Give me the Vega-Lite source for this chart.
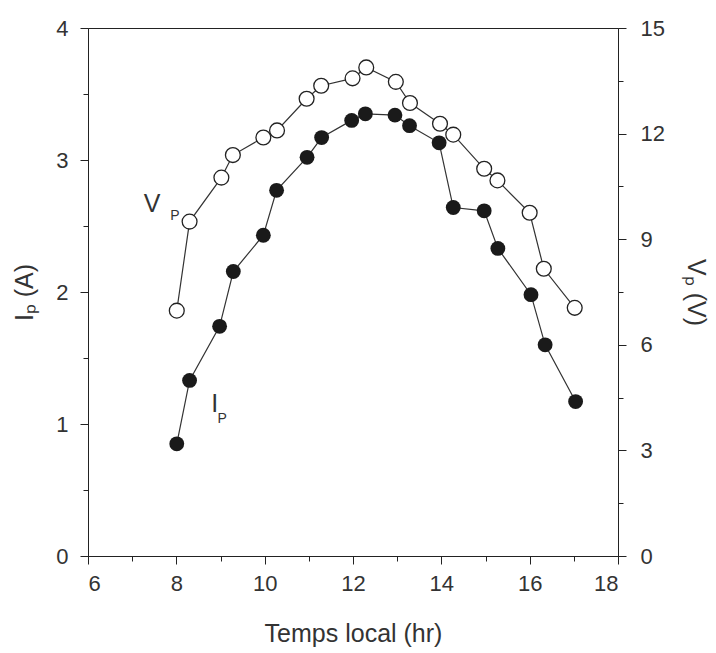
{
  "$schema": "https://vega.github.io/schema/vega-lite/v6.json",
  "width": 530,
  "height": 528,
  "autosize": "none",
  "padding": {"left": 88, "top": 28, "right": 98, "bottom": 97},
  "background": "white",
  "config": {
    "view": {"stroke": "#222", "strokeWidth": 1},
    "font": "Liberation Sans",
    "axis": {
      "grid": false,
      "domainColor": "#222",
      "tickColor": "#222",
      "labelColor": "#333",
      "titleColor": "#333",
      "labelFont": "Liberation Sans",
      "titleFont": "Liberation Sans",
      "labelFontSize": 22,
      "titleFontSize": 25,
      "titleFontWeight": "normal",
      "domainWidth": 1,
      "tickWidth": 1
    }
  },
  "datasets": {
    "vp": [
      {"t": 8.01, "V": 6.97}, {"t": 8.30, "V": 9.50}, {"t": 9.02, "V": 10.75},
      {"t": 9.28, "V": 11.39}, {"t": 9.97, "V": 11.89}, {"t": 10.28, "V": 12.09},
      {"t": 10.95, "V": 12.99}, {"t": 11.28, "V": 13.36}, {"t": 11.99, "V": 13.57},
      {"t": 12.30, "V": 13.88}, {"t": 12.97, "V": 13.47}, {"t": 13.29, "V": 12.87},
      {"t": 13.97, "V": 12.28}, {"t": 14.27, "V": 11.97}, {"t": 14.97, "V": 11.00},
      {"t": 15.27, "V": 10.67}, {"t": 16.00, "V": 9.75}, {"t": 16.32, "V": 8.16},
      {"t": 17.02, "V": 7.05}
    ],
    "ip": [
      {"t": 8.01, "I": 0.85}, {"t": 8.30, "I": 1.33}, {"t": 8.98, "I": 1.74},
      {"t": 9.29, "I": 2.155}, {"t": 9.97, "I": 2.43}, {"t": 10.27, "I": 2.77},
      {"t": 10.96, "I": 3.02}, {"t": 11.29, "I": 3.17}, {"t": 11.97, "I": 3.30},
      {"t": 12.28, "I": 3.35}, {"t": 12.95, "I": 3.34}, {"t": 13.28, "I": 3.26},
      {"t": 13.95, "I": 3.13}, {"t": 14.27, "I": 2.64}, {"t": 14.97, "I": 2.615},
      {"t": 15.28, "I": 2.33}, {"t": 16.03, "I": 1.98}, {"t": 16.35, "I": 1.60},
      {"t": 17.04, "I": 1.17}
    ],
    "mainlab": [
      {"t": 7.45, "y": 2.667, "label": "V"},
      {"t": 8.87, "y": 1.151, "label": "I"}
    ],
    "sublab": [
      {"t": 7.97, "y": 2.577, "label": "P"},
      {"t": 9.04, "y": 1.039, "label": "P"}
    ]
  },
  "layer": [
    {
      "data": {"name": "vp"},
      "mark": {"type": "line", "color": "#333", "strokeWidth": 1.2},
      "encoding": {
        "x": {"field": "t", "type": "quantitative",
              "scale": {"domain": [6, 18], "nice": false, "zero": false},
              "axis": {"orient": "bottom", "values": [6, 8, 10, 12, 14, 16, 18], "tickSize": 8, "labelPadding": 9,
                       "title": "Temps local (hr)", "titlePadding": 27}},
        "y": {"field": "V", "type": "quantitative",
              "scale": {"domain": [0, 15], "nice": false},
              "axis": {"orient": "right", "values": [0, 3, 6, 9, 12, 15], "tickSize": 8, "labelPadding": 14,
                       "title": "Vₚ (V)", "titlePadding": 18}}
      }
    },
    {
      "data": {"name": "vp"},
      "mark": {"type": "point", "shape": "circle", "filled": true, "fill": "white", "stroke": "#222", "strokeWidth": 1.3, "size": 220, "opacity": 1},
      "encoding": {
        "x": {"field": "t", "type": "quantitative", "scale": {"domain": [6, 18], "nice": false, "zero": false}, "axis": null},
        "y": {"field": "V", "type": "quantitative", "scale": {"domain": [0, 15], "nice": false}, "axis": null}
      }
    },
    {
      "data": {"name": "ip"},
      "mark": {"type": "line", "color": "#333", "strokeWidth": 1.2},
      "encoding": {
        "x": {"field": "t", "type": "quantitative",
              "scale": {"domain": [6, 18], "nice": false, "zero": false},
              "axis": {"orient": "bottom", "values": [7, 9, 11, 13, 15, 17], "tickSize": 5, "labels": false, "domain": false, "title": null}},
        "y": {"field": "I", "type": "quantitative",
              "scale": {"domain": [0, 4], "nice": false},
              "axis": {"orient": "left", "values": [0, 1, 2, 3, 4], "tickSize": 8, "labelPadding": 12,
                       "title": "Iₚ (A)", "titlePadding": 18}}
      }
    },
    {
      "data": {"name": "ip"},
      "mark": {"type": "circle", "color": "#1a1a1a", "size": 220, "opacity": 1},
      "encoding": {
        "x": {"field": "t", "type": "quantitative", "scale": {"domain": [6, 18], "nice": false, "zero": false}, "axis": null},
        "y": {"field": "I", "type": "quantitative", "scale": {"domain": [0, 4], "nice": false}, "axis": null}
      }
    },
    {
      "data": {"name": "mainlab"},
      "mark": {"type": "text", "fontSize": 25, "font": "Liberation Sans", "color": "#333", "align": "center", "baseline": "middle"},
      "encoding": {
        "x": {"field": "t", "type": "quantitative", "scale": {"domain": [6, 18], "nice": false, "zero": false}, "axis": null},
        "y": {"field": "y", "type": "quantitative", "scale": {"domain": [0, 4], "nice": false},
              "axis": {"orient": "left", "values": [0.5, 1.5, 2.5, 3.5], "tickSize": 5, "labels": false, "domain": false, "title": null}},
        "text": {"field": "label"}
      }
    },
    {
      "data": {"name": "sublab"},
      "mark": {"type": "text", "fontSize": 14, "font": "Liberation Sans", "color": "#333", "align": "center", "baseline": "middle"},
      "encoding": {
        "x": {"field": "t", "type": "quantitative", "scale": {"domain": [6, 18], "nice": false, "zero": false}, "axis": null},
        "y": {"field": "y", "type": "quantitative", "scale": {"domain": [0, 4], "nice": false},
              "axis": {"orient": "right", "values": [0.4, 1.2, 2.0, 2.8, 3.6], "tickSize": 5, "labels": false, "domain": false, "title": null}},
        "text": {"field": "label"}
      }
    }
  ],
  "resolve": {
    "scale": {"x": "independent", "y": "independent"},
    "axis": {"x": "independent", "y": "independent"}
  }
}
